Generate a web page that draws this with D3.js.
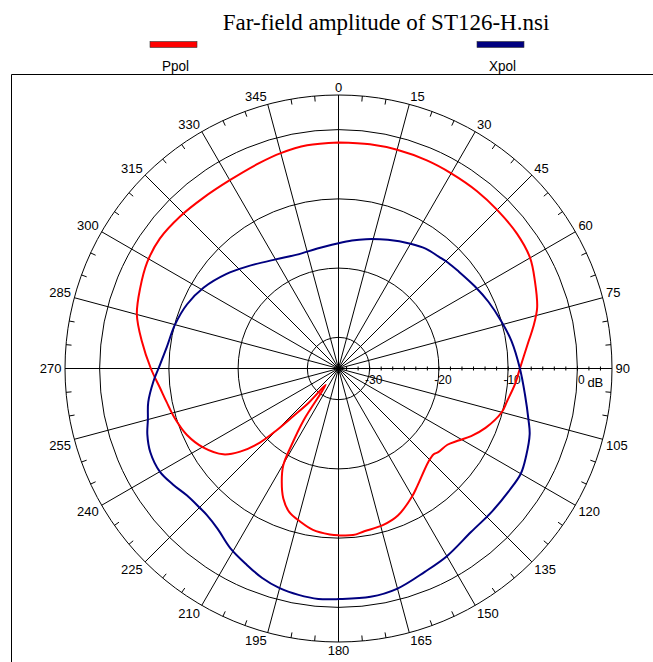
<!DOCTYPE html>
<html>
<head>
<meta charset="utf-8">
<script src="https://cdn.jsdelivr.net/npm/d3@7"></script>
<style>
  body { margin: 0; background: #fff; }
  svg { display: block; }
</style>
</head>
<body>
<div id="chart"></div>
<script>
// Ppol (co-polar) amplitude, dB
var ppolAngles = [0, 8, 15, 23, 30, 38, 45, 53, 60, 66, 73, 78, 82, 90, 95, 101, 105, 112, 117, 121, 125, 130, 132, 136, 146, 150, 158, 164, 171, 175, 180,
  183, 189, 194, 199, 203, 206.6, 209.7, 211.5, 214, 218, 221, 223.5, 225, 226.7, 229.8, 233.3, 239.6, 246.3, 253, 259, 263.6, 270,
  278, 285, 292, 299, 306, 314, 321.5, 330, 339, 345, 352, 360];
var ppolDb = [-1.85, -1.8, -1.8, -1.85, -1.95, -2.0, -2.1, -2.2, -2.55, -3.45, -4.5, -5.75, -6.8, -8.3, -8.9, -9.7, -10.1, -11.6, -13.0, -14.3, -15.3, -15.7, -16.0, -15.8, -14.1, -13.2, -11.6, -11.0, -10.7, -10.35, -10.4,
  -10.5, -10.9, -11.7, -12.6, -14.1, -16.2, -18.4, -21.5, -25.5, -31.5, -28, -25, -22, -18.9, -15.9, -13.75, -11.9, -10.6, -9.8, -9.2, -8.6, -7.4,
  -5.8, -4.35, -3.6, -2.9, -2.6, -2.8, -3.05, -3.1, -2.7, -2.3, -1.95, -1.85];

// Xpol (cross-polar) amplitude, dB
var xpolAngles = [0, 6, 12, 21, 30, 36, 42, 46, 51, 59, 66, 74, 81, 90, 98, 105, 109, 115, 120, 126, 133, 141, 150, 157, 165, 172, 180,
  185, 190, 195, 200, 205, 211, 217, 222, 225, 230, 235, 240, 246, 251, 255, 260, 266, 270,
  277, 285, 293, 301, 310, 318, 330, 340, 350, 360];
var xpolDb = [-16.4, -15.9, -15.4, -14.6, -13.7, -13.1, -12.8, -12.5, -12.2, -11.5, -10.8, -10.0, -9.2, -8.3, -7.3, -6.1, -5.3, -4.6, -4.1, -4.2, -4.2, -4.1, -3.2, -2.6, -1.6, -1.2, -1.2,
  -1.1, -1.3, -1.65, -2.3, -3.2, -4.2, -5.5, -6.05, -6.1, -5.95, -5.3, -4.7, -4.75, -5.3, -6.0, -6.6, -7.7, -8.5,
  -9.5, -10.05, -10.75, -11.8, -13.3, -14.7, -16.3, -17.0, -16.9, -16.4];

var ringDb = [-30, -20, -10, 0];
var ringLabels = ["-30", "-20", "-10", "0"];
var angleTicks = d3.range(0, 360, 15);
var seriesNames = ["Ppol", "Xpol"];
var seriesColors = ["#ff0000", "#000080"];

var width = 653, height = 662;
var cx = 338.5, cy = 368.5;
var rad = Math.PI / 180;

var r = d3.scaleLinear().domain([-34.5, 5]).range([0, 273.5]);
var rOuter = r(5);

var svg = d3.select("#chart")
    .append("svg")
    .attr("width", width)
    .attr("height", height)

svg.append("rect").attr("width", width).attr("height", height).attr("fill", "#fff")

// title
svg.append("text")
    .attr("x", 386)
    .attr("y", 30)
    .attr("text-anchor", "middle")
    .attr("font-family", "'Liberation Serif', 'Times New Roman', serif")
    .attr("font-size", 23)
    .text("Far-field amplitude of ST126-H.nsi")

// legend
var legendX = [173.5, 500.5];
var legend = svg.selectAll(".legend")
    .data(seriesNames)
    .enter().append("g")
    .attr("class", "legend")
    .attr("transform", (d, i) => "translate(" + legendX[i] + ",0)")

legend.append("rect")
    .attr("x", -23.5).attr("y", 41.5)
    .attr("width", 47).attr("height", 6)
    .attr("fill", (d, i) => seriesColors[i])
    .attr("stroke", "#333").attr("stroke-width", 0.6)

legend.append("text")
    .attr("x", 2).attr("y", 71)
    .attr("text-anchor", "middle")
    .attr("font-family", "'Liberation Sans Narrow', 'Liberation Sans', Arial, sans-serif")
    .attr("font-size", 15)
    .attr("textLength", 27)
    .attr("lengthAdjust", "spacingAndGlyphs")
    .text(d => d)

// frame
svg.append("path")
    .attr("d", "M11.5," + height + "V74.5H" + width)
    .attr("fill", "none")
    .attr("stroke", "#000")
    .attr("stroke-width", 1)

var polar = svg.append("g").attr("transform", "translate(" + cx + "," + cy + ")")

// rings
polar.selectAll(".ring")
    .data(ringDb.concat([5]))
    .enter().append("circle")
    .attr("class", "ring")
    .attr("r", d => r(d))
    .attr("fill", "none")
    .attr("stroke", "#000")
    .attr("stroke-width", 1)

// spokes
polar.selectAll(".spoke")
    .data(angleTicks)
    .enter().append("line")
    .attr("class", "spoke")
    .attr("x1", 0).attr("y1", 0)
    .attr("x2", d => rOuter * Math.sin(d * rad))
    .attr("y2", d => -rOuter * Math.cos(d * rad))
    .attr("stroke", "#000")
    .attr("stroke-width", 1)

// 5 degree ticks on the outer circle
polar.selectAll(".aTick")
    .data(d3.range(0, 360, 5).filter(d => d % 15 != 0))
    .enter().append("line")
    .attr("class", "aTick")
    .attr("x1", d => rOuter * Math.sin(d * rad))
    .attr("y1", d => -rOuter * Math.cos(d * rad))
    .attr("x2", d => (rOuter - 5.5) * Math.sin(d * rad))
    .attr("y2", d => -(rOuter - 5.5) * Math.cos(d * rad))
    .attr("stroke", "#000")
    .attr("stroke-width", 1)

// dB ticks along the 90 deg axis
var dbTicks = d3.range(-30 - 10 / 6 * 2, 5, 10 / 6).filter(d => r(d) > 4);
polar.selectAll(".rTick")
    .data(dbTicks)
    .enter().append("line")
    .attr("class", "rTick")
    .attr("x1", d => r(d)).attr("x2", d => r(d))
    .attr("y1", -2).attr("y2", 2)
    .attr("stroke", "#000")
    .attr("stroke-width", 1)

// angle labels
polar.selectAll(".aLabel")
    .data(angleTicks)
    .enter().append("text")
    .attr("class", "aLabel")
    .attr("x", d => (rOuter + 3.5) * Math.sin(d * rad))
    .attr("y", d => -(rOuter + 3.5) * Math.cos(d * rad))
    .attr("text-anchor", function(d) {
      var s = Math.sin(d * rad);
      return s > 0.01 ? "start" : (s < -0.01 ? "end" : "middle");
    })
    .attr("dy", function(d) {
      var c = Math.cos(d * rad);
      return c > 0.01 ? "0em" : (c < -0.01 ? "0.72em" : "0.36em");
    })
    .attr("font-family", "'Liberation Sans', Arial, sans-serif")
    .attr("font-size", 13)
    .text(d => d)

// dB labels
polar.selectAll(".rLabel")
    .data(ringDb)
    .enter().append("text")
    .attr("class", "rLabel")
    .attr("x", d => r(d) + 4)
    .attr("y", 15.5)
    .attr("text-anchor", "middle")
    .attr("font-family", "'Liberation Sans', Arial, sans-serif")
    .attr("font-size", 12)
    .text((d, i) => ringLabels[i])

polar.append("text")
    .attr("x", r(0) + 10).attr("y", 18.5)
    .attr("font-family", "'Liberation Sans', Arial, sans-serif")
    .attr("font-size", 13)
    .text("dB")

// curves
var radial = d3.lineRadial()
    .angle(d => d[0] * rad)
    .radius(d => r(d[1]))
    .curve(d3.curveCatmullRom.alpha(0.5))

var series = [d3.zip(ppolAngles, ppolDb), d3.zip(xpolAngles, xpolDb)];

polar.selectAll(".curve")
    .data(series)
    .enter().append("path")
    .attr("class", "curve")
    .attr("d", d => radial(d))
    .attr("fill", "none")
    .attr("stroke", (d, i) => seriesColors[i])
    .attr("stroke-width", 2)
</script>
</body>
</html>
